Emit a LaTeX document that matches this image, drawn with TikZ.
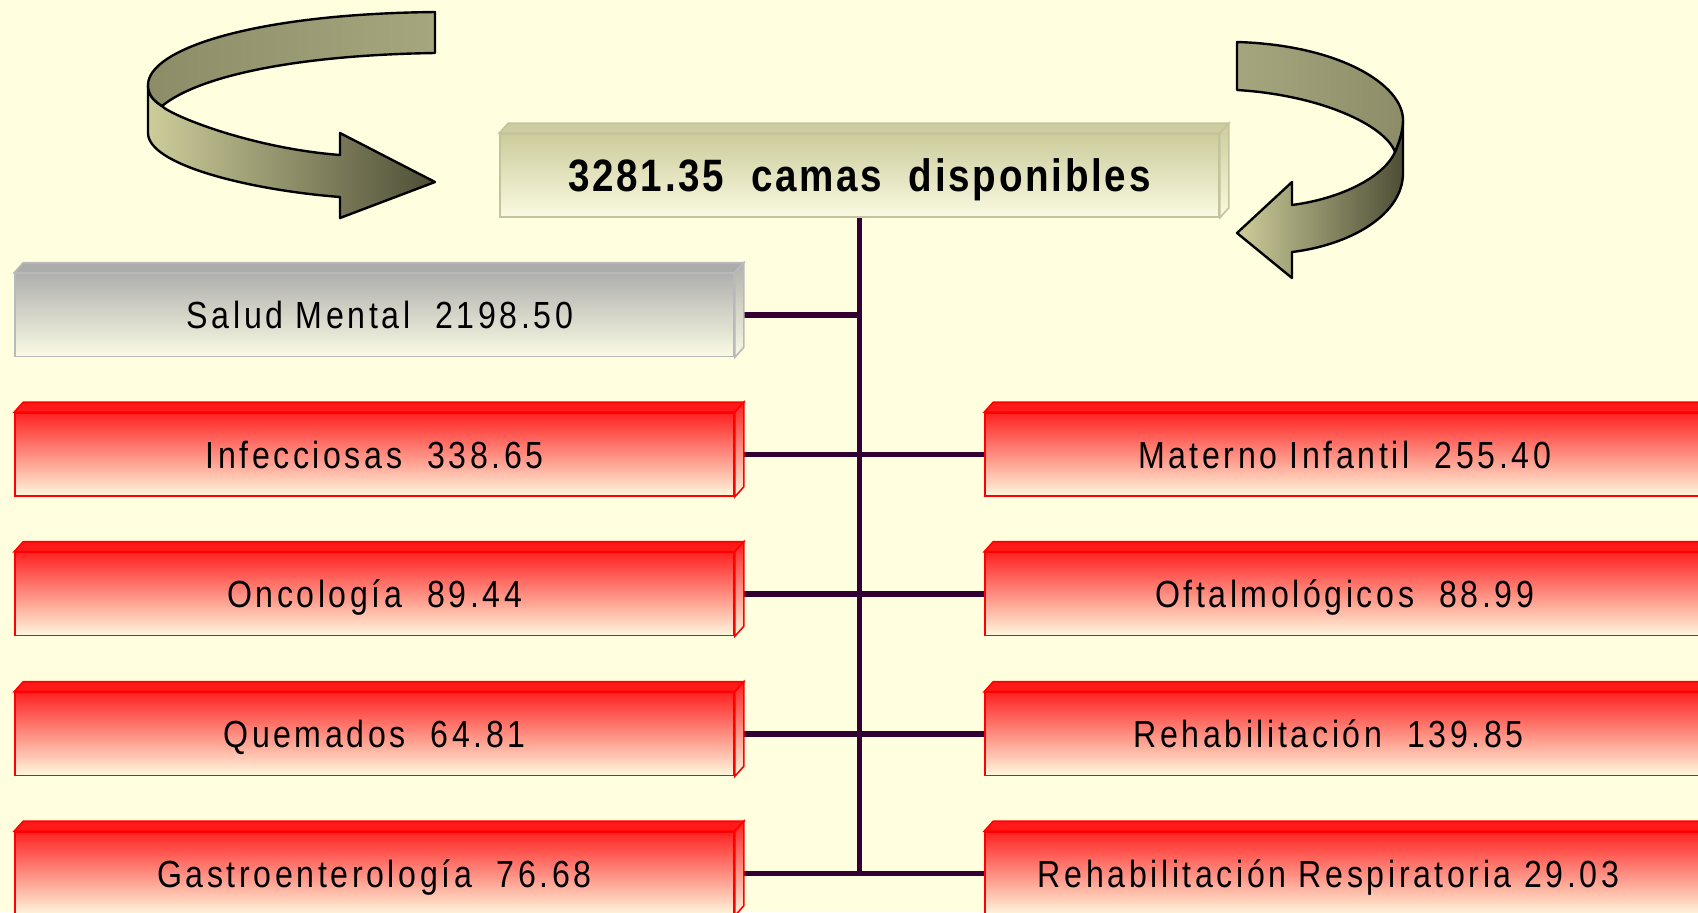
\documentclass[tikz,border=0pt]{standalone}
\usepackage{fontspec}
\setmainfont{Liberation Sans}[FakeStretch=0.85,LetterSpace=9.5]
\newfontfamily\titlefont{Liberation Sans}[FakeStretch=0.85,LetterSpace=6]
\definecolor{bg}{RGB}{255,255,224}
\definecolor{connc}{RGB}{51,0,51}
\definecolor{redb}{RGB}{255,0,0}
\definecolor{redt}{RGB}{255,35,35}
\definecolor{redbt}{RGB}{255,248,222}
\definecolor{redtopc}{RGB}{255,25,25}
\definecolor{grayb}{RGB}{185,185,185}
\definecolor{grayt}{RGB}{176,176,174}
\definecolor{graybt}{RGB}{250,250,228}
\definecolor{graytopc}{RGB}{172,172,172}
\definecolor{khb}{RGB}{196,196,156}
\definecolor{kht}{RGB}{204,204,156}
\definecolor{khbt}{RGB}{250,250,226}
\definecolor{khtopc}{RGB}{205,205,160}
\definecolor{olbackL}{RGB}{140,140,104}
\definecolor{olbackR}{RGB}{166,166,126}
\definecolor{ollight}{RGB}{205,205,155}
\definecolor{oldark}{RGB}{78,78,54}
\newcommand\bevelfaces[2]{%
  \path[#2top] (#1.north west) -- ++(9,-10) -- ([shift={(9,-10)}]#1.north east) -- (#1.north east) -- cycle;
  \path[#2side] (#1.north east) -- ++(9,-10) -- ([shift={(9,-10)}]#1.south east) -- (#1.south east) -- cycle;}
\begin{document}
\begin{tikzpicture}[x=0.5pt,y=-0.5pt,
  conn/.style={draw=connc,line width=2.6pt},
  facebox/.style={rectangle,inner sep=0pt,minimum width=359.5pt,minimum height=41.5pt,
    line width=0.8pt,text height=13.5pt,text depth=0pt,font=\fontsize{18.9}{22}\selectfont},
  redbox/.style={facebox,draw=redb,top color=redt,bottom color=redbt},
  redtop/.style={fill=redtopc,draw=redb,line width=0.8pt},
  redside/.style={draw=redb,line width=0.8pt,top color=redt,bottom color=redbt},
  graybox/.style={facebox,draw=grayb,top color=grayt,bottom color=graybt},
  graytop/.style={fill=graytopc,draw=grayb,line width=0.8pt},
  grayside/.style={draw=grayb,line width=0.8pt,top color=grayt,bottom color=graybt},
  titlebox/.style={facebox,draw=khb,top color=kht,bottom color=khbt,text height=16pt,
    font=\titlefont\fontsize{22.7}{26}\selectfont\bfseries},
  titletop/.style={fill=khtopc,draw=khb,line width=0.8pt},
  titleside/.style={draw=khb,line width=0.8pt,top color=kht,bottom color=khbt},
  arrowline/.style={draw=black,line width=1.2pt,line join=round},
  backband/.style={arrowline,left color=olbackL,right color=olbackR},
  frontbandL/.style={arrowline,left color=ollight,right color=oldark},
]
\fill[bg] (0,0) rectangle (1698,912);
\useasboundingbox (0,0) rectangle (1698,912);

% boxes
\node[titlebox] (title) at (859.5,175.5) {3281.35~~camas~~disponibles};
\node[graybox] (sm) at (374.5,315) {\hspace*{5.5pt}Salud Mental~~2198.50};
\node[redbox] (inf) at (374.5,454.5) {Infecciosas~~338.65};
\node[redbox] (onc) at (374.5,594) {Oncología~~89.44};
\node[redbox] (que) at (374.5,734) {Quemados~~64.81};
\node[redbox] (gas) at (374.5,873.5) {Gastroenterología~~76.68};
\node[redbox] (mat) at (1344.5,454.5) {Materno Infantil~~255.40};
\node[redbox] (oft) at (1344.5,594) {Oftalmológicos~~88.99};
\node[redbox] (reh) at (1344.5,734) {Rehabilitación~~139.85\hspace*{16pt}};
\node[redbox] (rr) at (1344.5,873.5) {Rehabilitación Respiratoria 29.03\hspace*{16pt}};

% connectors
\coordinate (vbot) at (gas.east -| title.south);
\draw[conn] (title.south) -- (vbot);
\draw[conn] (sm.east) -- (sm.east -| title.south);
\draw[conn] (inf.east) -- (mat.west);
\draw[conn] (onc.east) -- (oft.west);
\draw[conn] (que.east) -- (reh.west);
\draw[conn] (gas.east) -- (rr.west);

% bevel faces
\bevelfaces{title}{title}
\bevelfaces{sm}{gray}
\foreach \n in {inf,onc,que,gas,mat,oft,reh,rr}{\bevelfaces{\n}{red}}

% left curved arrow
\path[frontbandL] (162,106) .. controls (154,101) and (148,95) .. (148,85) -- (148,133)
  .. controls (148,165) and (250,190) .. (340,197) -- (340,218) -- (435,182) -- (340,133) -- (340,155)
  .. controls (250,148) and (170,115) .. (162,106) -- cycle;
\path[backband] (435,12) .. controls (250,14) and (148,50) .. (148,85)
  .. controls (148,95) and (154,101) .. (162,106)
  .. controls (200,75) and (300,55) .. (435,53) -- cycle;

% right curved arrow
\path[frontbandL] (1403,120) -- (1403,173) .. controls (1403,215) and (1350,245) .. (1292,252)
  -- (1292,278) -- (1237,233) -- (1292,182) -- (1292,205)
  .. controls (1345,198) and (1385,175) .. (1395,152) .. controls (1400,140) and (1403,130) .. (1403,120) -- cycle;
\path[arrowline,left color=olbackR,right color=olbackL] (1237,42) .. controls (1340,45) and (1403,85) .. (1403,120)
  .. controls (1403,130) and (1400,140) .. (1395,152)
  .. controls (1385,125) and (1320,95) .. (1237,90) -- cycle;
\end{tikzpicture}
\end{document}
